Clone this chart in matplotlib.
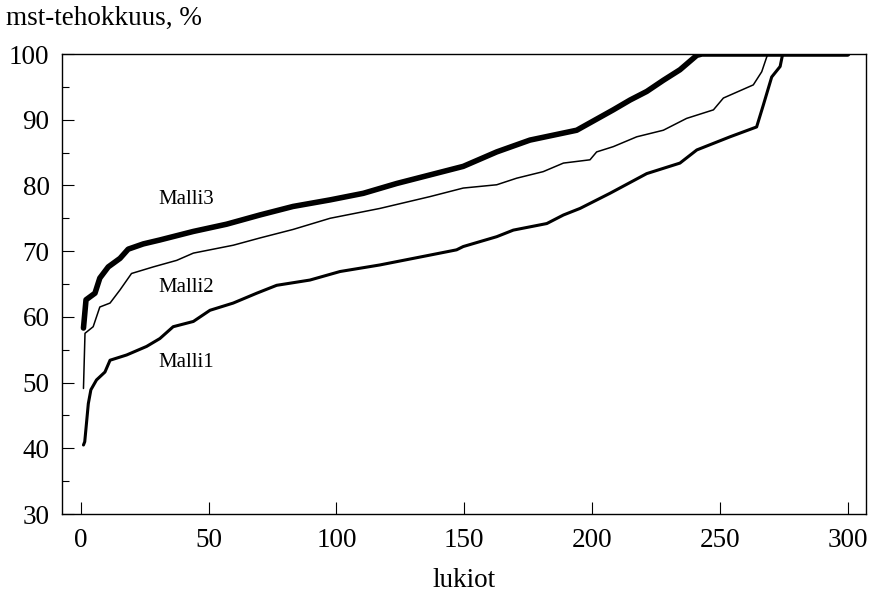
import matplotlib
matplotlib.use("Agg")
import matplotlib.pyplot as plt
from matplotlib.ticker import MultipleLocator

plt.rcParams['font.family'] = ['Liberation Serif', 'DejaVu Serif']

# Data (sorted efficiency per school)
malli3_x = [1, 2, 5.5, 7.4, 10.7, 15.3, 18.5, 24.4, 30.9, 44, 57, 70, 83, 97.5,
            110.5, 123.6, 136.6, 149.6, 162.7, 175.7, 194, 208.3, 214.9, 221.4,
            227.9, 234.4, 241, 243, 300]
malli3_y = [58.3, 62.6, 63.6, 65.9, 67.6, 68.9, 70.3, 71.1, 71.7, 73.0, 74.1, 75.5,
            76.8, 77.8, 78.8, 80.3, 81.6, 82.9, 85.1, 86.9, 88.4, 91.5, 93.0, 94.3,
            96.0, 97.6, 99.8, 100, 100]

malli2_x = [1, 1.6, 4.8, 7.4, 11.4, 15.3, 19.8, 28.3, 37.5, 44, 59.6, 70, 83, 97.5,
            117, 136.6, 149.6, 162.7, 170.5, 180.9, 188.8, 199.2, 201.8, 208.3,
            217.5, 227.9, 237, 247.5, 251.4, 263.1, 266.4, 268.4, 269, 300]
malli2_y = [49.1, 57.5, 58.5, 61.5, 62.1, 64.1, 66.6, 67.6, 68.6, 69.7, 70.9, 72.0,
            73.3, 75.0, 76.5, 78.3, 79.6, 80.1, 81.1, 82.1, 83.4, 83.9, 85.1, 85.9,
            87.4, 88.4, 90.2, 91.5, 93.3, 95.3, 97.3, 99.6, 100, 100]

malli1_x = [1, 1.5, 2.9, 3.9, 6.1, 9.4, 11.4, 17.9, 25.7, 30.9, 36.1, 44, 50.5, 59.6,
            68.8, 76.6, 89.6, 101.4, 117, 136.6, 147, 149.6, 162.7, 169.2, 182.3,
            188.8, 195.3, 207, 221.4, 234.4, 241, 254, 264.4, 267, 270.3, 273.6,
            274.6, 300]
malli1_y = [40.5, 41, 46.8, 48.9, 50.4, 51.6, 53.4, 54.2, 55.5, 56.7, 58.5, 59.3,
            61.0, 62.1, 63.6, 64.8, 65.6, 66.9, 67.9, 69.4, 70.2, 70.7, 72.2, 73.2,
            74.2, 75.5, 76.5, 78.8, 81.8, 83.4, 85.4, 87.4, 88.9, 92.2, 96.5, 98.1,
            100, 100]

labels = ["Malli1", "Malli2", "Malli3"]
label_pos = [(30.2, 52.3), (30.2, 63.8), (30.2, 77.1)]
x_ticks = [0, 50, 100, 150, 200, 250, 300]
y_ticks = [30, 40, 50, 60, 70, 80, 90, 100]

fig = plt.figure(figsize=(8.72, 5.95), dpi=100)
ax = fig.add_axes([62/872, 1-514/595, (866-62)/872, (514-54)/595])

kw = dict(color='black', solid_joinstyle='round', solid_capstyle='round')
ax.plot(malli1_x, malli1_y, lw=2.2, **kw)
ax.plot(malli2_x, malli2_y, lw=1.1, **kw)
ax.plot(malli3_x, malli3_y, lw=4.0, **kw)

for lab, (lx, ly) in zip(labels, label_pos):
    ax.text(lx, ly, lab, fontsize=15, va='baseline', ha='left')

ax.set_xlim(-7.4, 307.2)
ax.set_ylim(30, 100)
ax.set_xticks(x_ticks)
ax.set_yticks(y_ticks)
ax.yaxis.set_minor_locator(MultipleLocator(5))
ax.tick_params(axis='both', which='major', direction='in', length=8.5, width=0.8,
               labelsize=19.5)
ax.tick_params(axis='y', which='major', pad=9)
ax.tick_params(axis='x', which='major', pad=10)
ax.tick_params(axis='y', which='minor', direction='in', length=5, width=0.8)
for s in ax.spines.values():
    s.set_linewidth(1.0)

fig.text(6/872, 1-25/595, "mst-tehokkuus, %", fontsize=19.5, va='baseline', ha='left')
fig.text(464/872, 1-587/595, "lukiot", fontsize=19.5, va='baseline', ha='center')

fig.savefig("out.png", dpi=100)
